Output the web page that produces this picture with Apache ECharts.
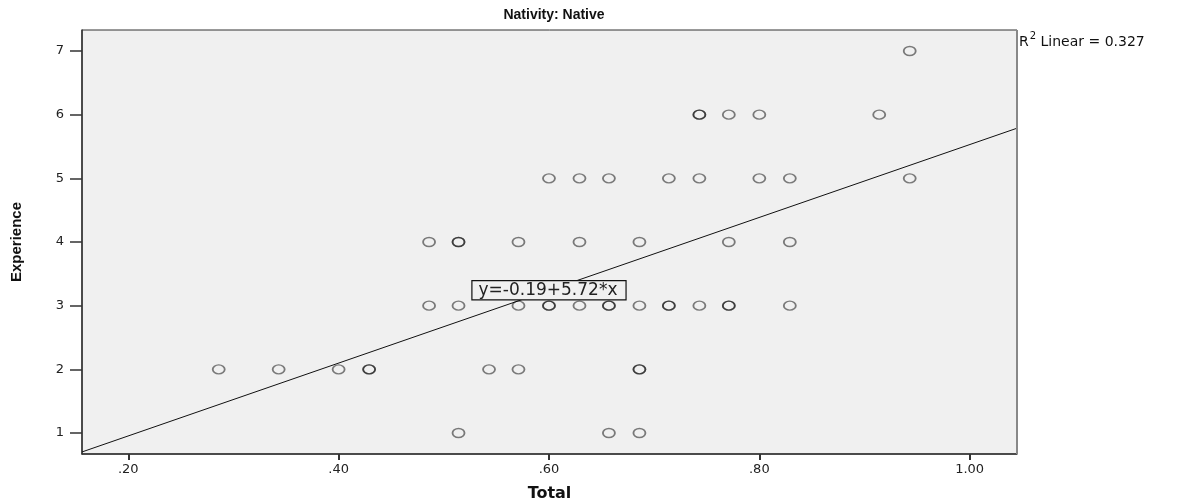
<!DOCTYPE html>
<html>
<head>
<meta charset="utf-8">
<script src="https://cdn.jsdelivr.net/npm/echarts@6/dist/echarts.min.js"></script>
<style>html,body{margin:0;padding:0;background:#fff;overflow:hidden;}#c{width:1186px;height:501px;}</style>
</head>
<body>
<div id="c"></div>
<script>
// ---- data ----
var chartTitle = 'Nativity: Native';
var xName = 'Total';
var yName = 'Experience';
var xTicks = [0.2, 0.4, 0.6, 0.8, 1.0];
var yTicks = [1, 2, 3, 4, 5, 6, 7];
var xRange = [0.156, 1.045];
var yRange = [0.67, 7.33];
// Total values for each point, with matching Experience values
var totalValues = [
  0.514, 0.657, 0.686,
  0.286, 0.343, 0.400, 0.429, 0.429, 0.543, 0.571, 0.686, 0.686,
  0.486, 0.514, 0.571, 0.600, 0.600, 0.629, 0.657, 0.657, 0.686, 0.714, 0.714, 0.743, 0.771, 0.771, 0.829,
  0.486, 0.514, 0.514, 0.571, 0.629, 0.686, 0.771, 0.829,
  0.600, 0.629, 0.657, 0.714, 0.743, 0.800, 0.829, 0.943,
  0.743, 0.743, 0.771, 0.800, 0.914,
  0.943
];
var experienceValues = [
  1, 1, 1,
  2, 2, 2, 2, 2, 2, 2, 2, 2,
  3, 3, 3, 3, 3, 3, 3, 3, 3, 3, 3, 3, 3, 3, 3,
  4, 4, 4, 4, 4, 4, 4, 4,
  5, 5, 5, 5, 5, 5, 5, 5,
  6, 6, 6, 6, 6,
  7
];
var fitIntercept = -0.19;
var fitSlope = 5.72;
var rSquared = 0.327;
var equationAt = 0.6;

// ---- build options ----
var points = totalValues.map(function (v, i) { return [v, experienceValues[i]]; });
function fit(x) { return fitIntercept + fitSlope * x; }
var fitLine = [[xRange[0], fit(xRange[0])], [xRange[1], fit(xRange[1])]];

var chart = echarts.init(document.getElementById('c'));
var axisBottomY = 454;
chart.setOption({
  animation: false,
  backgroundColor: '#ffffff',
  title: {
    text: chartTitle, left: 549, top: 3, textAlign: 'center',
    textStyle: { fontFamily: 'Liberation Sans', fontWeight: 'bold', fontSize: 14, color: '#111' }
  },
  grid: {
    left: 82, right: 169, top: 30, bottom: 501 - axisBottomY,
    outerBoundsMode: 'none', containLabel: false,
    show: true, backgroundColor: '#f0f0f0', borderColor: '#333', borderWidth: 1
  },
  xAxis: {
    type: 'value', min: xRange[0], max: xRange[1],
    name: xName, nameLocation: 'middle', nameGap: 32,
    nameTextStyle: { fontFamily: 'DejaVu Sans', fontWeight: 'bold', fontSize: 16, color: '#111' },
    axisLine: { show: true, lineStyle: { color: '#333', width: 1.5 } },
    axisTick: { show: true, length: 6, lineStyle: { color: '#333', width: 2 }, customValues: xTicks },
    axisLabel: {
      margin: 9, color: '#222', fontFamily: 'DejaVu Sans', fontSize: 13,
      customValues: xTicks,
      formatter: function (v) { return v.toFixed(2).replace(/^0/, ''); }
    },
    splitLine: { show: false }
  },
  yAxis: {
    type: 'value', min: yRange[0], max: yRange[1],
    name: yName, nameLocation: 'middle', nameGap: 58, nameRotate: 90,
    nameTextStyle: { fontFamily: 'Liberation Sans', fontWeight: 'bold', fontSize: 15, color: '#111' },
    axisLine: { show: true, lineStyle: { color: '#333', width: 1.5 } },
    axisTick: { show: true, length: 12, lineStyle: { color: '#333', width: 1.5 }, customValues: yTicks },
    axisLabel: {
      margin: 18, color: '#222', fontFamily: 'DejaVu Sans', fontSize: 13,
      customValues: yTicks
    },
    splitLine: { show: false }
  },
  graphic: [{
    type: 'text', left: 1019, top: 31,
    style: {
      text: '{a|R}{s|2}{a| Linear = ' + rSquared + '}',
      rich: {
        a: { fontFamily: 'DejaVu Sans', fontSize: 14, fill: '#111', verticalAlign: 'bottom', lineHeight: 18 },
        s: { fontFamily: 'DejaVu Sans', fontSize: 10, fill: '#111', verticalAlign: 'top', lineHeight: 18, padding: [0, 0, 7, 1] }
      }
    }
  }, {
    type: 'rect', left: 1016, top: 30, z: 10,
    shape: { width: 2, height: axisBottomY - 30 },
    style: { fill: '#888' }
  }],
  series: [
    {
      type: 'line', data: fitLine, symbol: 'none', silent: true, z: 2,
      lineStyle: { color: '#111', width: 1 },
      markPoint: {
        symbol: 'rect', symbolSize: 1, itemStyle: { color: 'transparent' },
        data: [{ coord: [equationAt, fit(equationAt)] }],
        label: {
          show: true, position: 'inside',
          formatter: 'y=' + fitIntercept + '+' + fitSlope + '*x',
          fontFamily: 'DejaVu Sans', fontSize: 17, color: '#222',
          backgroundColor: '#f0f0f0', borderColor: '#111', borderWidth: 1.2,
          padding: [1, 8, 0, 6]
        }
      }
    },
    {
      type: 'scatter', data: points, z: 3,
      symbol: 'circle', symbolSize: [12, 9],
      itemStyle: { color: 'transparent', borderColor: 'rgba(0,0,0,0.62)', borderWidth: 1.6 }
    }
  ]
});
</script>
</body>
</html>
